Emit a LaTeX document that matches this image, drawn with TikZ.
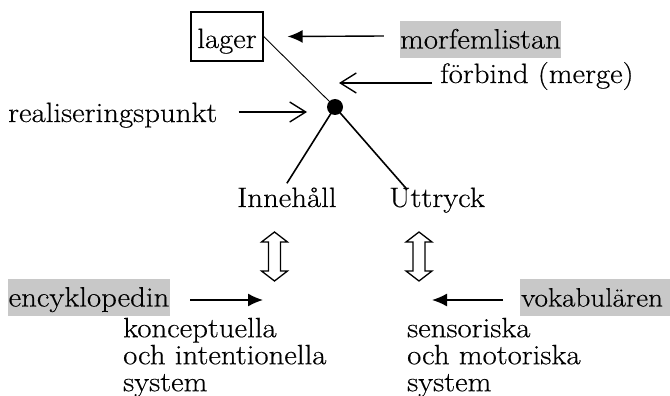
\documentclass[tikz,border=0pt]{standalone}
\usepackage{fontspec}
\setmainfont{Latin Modern Roman}[FakeStretch=1.1,FakeBold=0.4]
\usetikzlibrary{arrows.meta,calc}
\definecolor{hl}{RGB}{200,200,200}
\begin{document}
\begin{tikzpicture}[x=1pt,y=-1pt,
  every node/.style={font=\fontsize{28}{27}\selectfont, inner sep=0pt},
  hlbox/.style={fill=hl, minimum height=37pt, text height=18pt, text depth=0pt},
  fillarr/.style={line width=1.4pt, -{Latex[length=15pt,width=13pt]}},
  openarr/.style={line width=1.4pt, -{Straight Barb[length=16pt,width=20pt,line width=1.4pt]}},
  branch/.style={line width=1.6pt},
  thinline/.style={line width=0.9pt},
  dblarrow/.style={line width=1.3pt, fill=white}]
\useasboundingbox (0,0) rectangle (670,396);

% nodes
\node[draw, line width=1.3pt, minimum width=72pt, minimum height=49pt, text height=25pt, text depth=2pt] (lager) at (227,36.5) {lager};
\node[hlbox, minimum width=159pt] (morf) at (480.5,39.5) {morfemlistan};
\node[anchor=base west] (forb) at (440,83) {förbind (merge)};
\node[anchor=base west] (real) at (8,122) {realiseringspunkt};
\node[circle, fill, minimum size=16pt] (dot) at (335,107) {};
\node[anchor=base west] (inn) at (237,207) {Innehåll};
\node[anchor=base west] (utt) at (389,207) {Uttryck};
\node[hlbox, minimum width=162pt] (ency) at (89,297.5) {encyklopedin};
\node[hlbox, font=\fontsize{26.5}{27}\selectfont, minimum width=150pt, text width=148pt, align=left, anchor=west] (voka) at (520,297.5) {vokabulären};
\node[anchor=north west, align=left] (konc) at (123,317.6) {konceptuella\\och intentionella\\system};
\node[anchor=north west, align=left] (sens) at (407,317.6) {sensoriska\\och motoriska\\system};
\coordinate (encytip) at (263,300);
\coordinate (vokatip) at (432,300);

% tree lines
\draw[thinline] (lager.east) -- (dot.center);
\draw[branch] (dot.center) -- ([yshift=4pt]inn.north);
\draw[branch] (dot.center) -- ([xshift=18pt,yshift=-2pt]utt.north west);

% arrows
\draw[fillarr] ([xshift=-16pt,yshift=3.5pt]morf.west) -- ([xshift=24pt]lager.east);
\draw[openarr] ([xshift=-8pt]forb.base west) -- ([xshift=4pt,yshift=24pt]dot.center);
\draw[openarr] ([xshift=21pt,yshift=10pt]real.base east) -- ([xshift=-28pt,yshift=-5pt]dot.center);
\draw[fillarr] ([xshift=20pt,yshift=-2.5pt]ency.east) -- (encytip);
\draw[fillarr] ([xshift=-17pt,yshift=-2.5pt]voka.west) -- (vokatip);

% hollow double arrows
\foreach \cx in {274.5,419}
  \draw[dblarrow] (\cx,232) -- ++(13,10) -- ++(-7,0) -- ++(0,29) -- ++(7,0) -- (\cx,281)
    -- ++(-13,-10) -- ++(7,0) -- ++(0,-29) -- ++(-7,0) -- cycle;
\end{tikzpicture}
\end{document}
